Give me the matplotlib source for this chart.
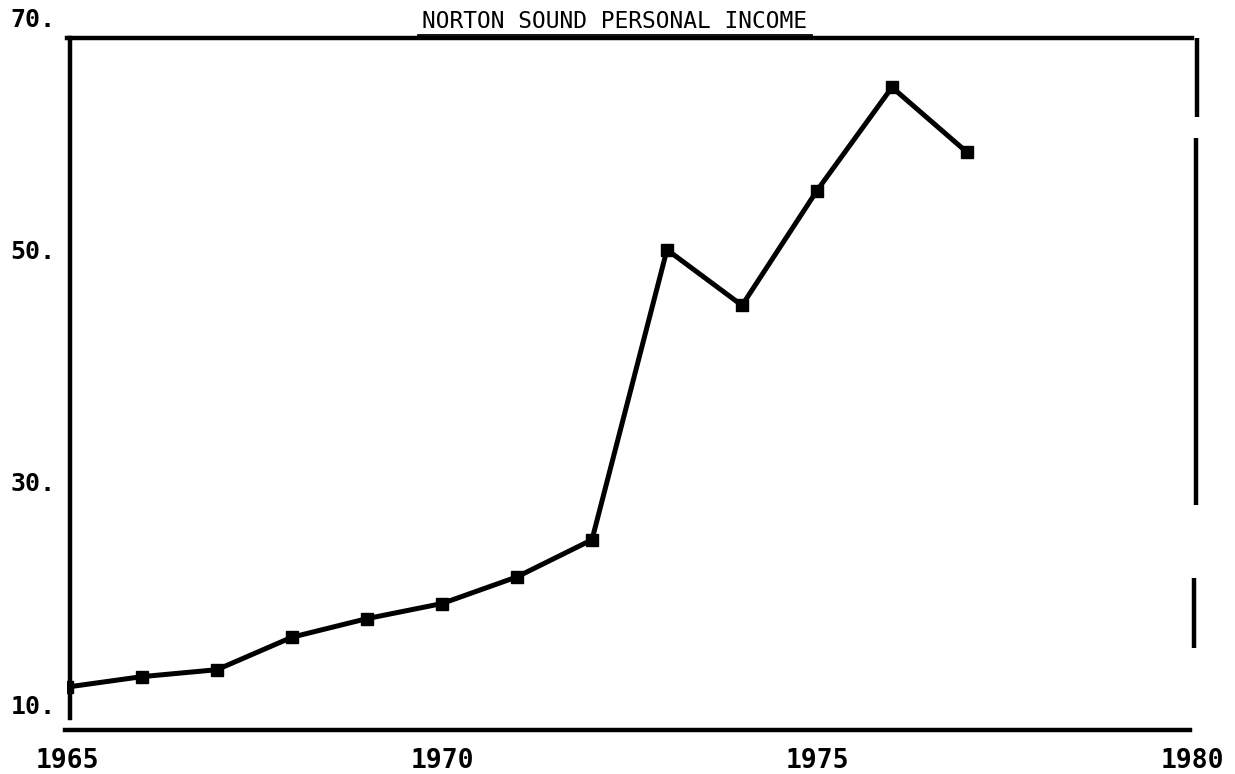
import numpy as np
import matplotlib
matplotlib.use("Agg")
import matplotlib.pyplot as plt
import matplotlib.transforms as mtransforms

years = [1965, 1966, 1967, 1968, 1969, 1970, 1971, 1972, 1973, 1974, 1975, 1976, 1977]
income = [12.5, 13.4, 14.0, 16.8, 18.4, 19.7, 22.0, 25.2, 50.2, 45.4, 55.3, 64.2, 58.6]

x_ticks = [1965, 1970, 1975, 1980]
y_ticks = [10, 30, 50, 70]
title = "NORTON SOUND PERSONAL INCOME"

fig = plt.figure(figsize=(12.35, 7.74), dpi=100)
W, H = 1235, 774
# axes box: x 67..1192 px, y 38..730 px
ax = fig.add_axes([67 / W, 1 - 730 / H, 1125 / W, 692 / H])

ax.plot(years, income, color="black", lw=3.6, marker="s", ms=9,
        markerfacecolor="black", markeredgecolor="black")

ax.set_xlim(1965, 1980)
ax.set_ylim(8.8, 68.45)

font = dict(family="DejaVu Sans Mono", weight="bold")

ax.set_xticks(x_ticks)
ax.set_xticklabels([str(t) for t in x_ticks], fontsize=19, **font)
ax.tick_params(axis="x", length=0, pad=13)
ax.set_yticks([])

# y labels sit outside the axes, like the plotter output
trans = mtransforms.blended_transform_factory(ax.transAxes, ax.transData)
for v in y_ticks:
    ax.text(-0.05, v + (0.8 if v == 10 else 0), f"{v}.", transform=trans, ha="left",
            va="center", fontsize=18, clip_on=False, **font)

for s in ["top", "left", "bottom"]:
    ax.spines[s].set_linewidth(3.2)
ax.spines["right"].set_visible(False)
ax.spines["left"].set_bounds(9.8, 68.45)
ax.spines["left"].set_position(("axes", 0.003))
ax.spines["bottom"].set_bounds(1964.97, 1979.97)

# broken right edge
for x0, y0, y1 in [(1.0044, 0.886, 1.0), (1.0035, 0.325, 0.855), (1.0018, 0.118, 0.220)]:
    ax.plot([x0, x0], [y0, y1], color="black", lw=3.2, transform=ax.transAxes,
            clip_on=False, solid_capstyle="butt")

ax.text(0.487, 1.007, title, transform=ax.transAxes, ha="center", va="bottom",
        fontsize=16.5, family="DejaVu Sans Mono")
ax.plot([0.312, 0.662], [1.004, 1.004], color="black", lw=1.3,
        transform=ax.transAxes, clip_on=False)

fig.savefig("out.png", dpi=100)
